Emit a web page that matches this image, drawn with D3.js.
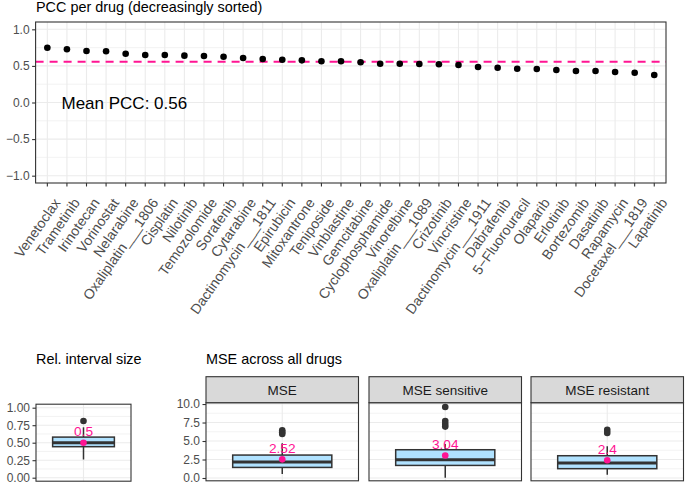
<!DOCTYPE html>
<html><head><meta charset="utf-8">
<script src="https://cdn.jsdelivr.net/npm/d3@7"></script>
<style>
body{margin:0;background:#fff;}
svg{display:block;font-family:"Liberation Sans",Arial,Helvetica,sans-serif;}
</style></head>
<body><svg id="c" width="685" height="484"></svg>
<script>
// ---------------- data ----------------
const drugs = ["Venetoclax","Trametinib","Irinotecan","Vorinostat","Nelarabine","Oxaliplatin___1806","Cisplatin","Nilotinib","Temozolomide","Sorafenib","Cytarabine","Dactinomycin___1811","Epirubicin","Mitoxantrone","Teniposide","Vinblastine","Gemcitabine","Cyclophosphamide","Vinorelbine","Oxaliplatin___1089","Crizotinib","Vincristine","Dactinomycin___1911","Dabrafenib","5\u2212Fluorouracil","Olaparib","Erlotinib","Bortezomib","Dasatinib","Rapamycin","Docetaxel___1819","Lapatinib"];
const pcc = [0.749,0.727,0.704,0.700,0.667,0.649,0.649,0.640,0.635,0.626,0.608,0.594,0.585,0.576,0.563,0.563,0.549,0.530,0.530,0.526,0.522,0.512,0.485,0.475,0.462,0.458,0.444,0.430,0.430,0.417,0.407,0.376];
const meanPCC = 0.557;
const meanPCCLabel = "Mean PCC: 0.56";
const pccTicks = [-1.0,-0.5,0.0,0.5,1.0];

const relStats = {q1:0.443, median:0.50, q3:0.58, lo:0.26, hi:0.72, outliers:[0.81], mean:0.5, label:"0.5"};
const relTicks = [0,0.25,0.5,0.75,1.0];

const mseFacets = ["MSE","MSE sensitive","MSE resistant"];
const mseQ1 = [1.43,1.70,1.26];
const mseMedian = [2.16,2.47,2.03];
const mseQ3 = [3.10,3.82,3.01];
const mseLo = [0.54,0.02,0.45];
const mseHi = [4.7,4.6,4.3];
const mseOutliers = [[6.45,6.2,5.95],[9.6,7.7,7.3,6.95],[6.5,6.1]];
const mseMean = [2.52,3.04,2.40];
const mseMeanLabel = ["2.52","3.04","2.4"];
const mseTicks = [0,2.5,5,7.5,10];

// ---------------- style ----------------
const GRID="#ebebeb", BORDER="#333333", TICKTXT="#4d4d4d", PINK="#ff1493", BOXFILL="#b0e2ff";
const svg = d3.select("#c");

function grid(g, x0, x1, y, major, minor){
  minor.forEach(v=>g.append("line").attr("x1",x0).attr("x2",x1).attr("y1",y(v)).attr("y2",y(v)).attr("stroke",GRID).attr("stroke-width",0.6));
  major.forEach(v=>g.append("line").attr("x1",x0).attr("x2",x1).attr("y1",y(v)).attr("y2",y(v)).attr("stroke",GRID).attr("stroke-width",1.1));
}
function yAxis(g, x0, y, ticks, fmt){
  const ax = d3.axisLeft(y).tickValues(ticks).tickFormat(fmt).tickSize(3.5).tickPadding(2.5);
  const a = g.append("g").attr("transform",`translate(${x0},0)`).call(ax);
  a.select(".domain").remove();
  a.selectAll("line").attr("stroke",BORDER).attr("stroke-width",1.1);
  a.selectAll("text").attr("fill",TICKTXT).style("font-size","12px").style("font-family","'Liberation Sans',Arial,sans-serif");
}

// ---------------- top panel ----------------
{
  const L=35.6, R=666, T=22, B=183;
  const x = d3.scalePoint().domain(drugs).range([L,R]).padding(0.6);
  const y = d3.scaleLinear().domain([-1.1,1.1]).range([B,T]);
  const g = svg.append("g");
  grid(g,L,R,y,pccTicks,[-0.75,-0.25,0.25,0.75]);
  drugs.forEach(d=>g.append("line").attr("x1",x(d)).attr("x2",x(d)).attr("y1",T).attr("y2",B).attr("stroke",GRID).attr("stroke-width",1.1));
  g.append("line").attr("x1",L).attr("x2",R).attr("y1",y(meanPCC)).attr("y2",y(meanPCC))
    .attr("stroke",PINK).attr("stroke-width",2).attr("stroke-dasharray","8,6");
  g.selectAll("circle.p").data(pcc).join("circle").attr("cx",(v,i)=>x(drugs[i])).attr("cy",v=>y(v)).attr("r",3.3).attr("fill","#000");
  g.append("text").attr("x",61.5).attr("y",y(0)).attr("dy","0.36em").style("font-size","17px").attr("fill","#000").text(meanPCCLabel);
  g.append("rect").attr("x",L).attr("y",T).attr("width",R-L).attr("height",B-T).attr("fill","none").attr("stroke",BORDER).attr("stroke-width",1.1);
  yAxis(g,L,y,pccTicks,d3.format(".1f"));
  drugs.forEach(d=>{
    g.append("line").attr("x1",x(d)).attr("x2",x(d)).attr("y1",B).attr("y2",B+3.5).attr("stroke",BORDER).attr("stroke-width",1.1);
    g.append("text").attr("transform",`translate(${x(d)+5.5},${B+14}) rotate(-55)`)
      .attr("text-anchor","end").attr("dy","0.71em").attr("fill",TICKTXT).style("font-size","14px").text(d);
  });
  svg.append("text").attr("x",36).attr("y",11.5).style("font-size","14.4px").attr("fill","#000").text("PCC per drug (decreasingly sorted)");
}

function boxplot(g, cx, w, y, s){
  g.append("line").attr("x1",cx).attr("x2",cx).attr("y1",y(s.q3)).attr("y2",y(s.hi)).attr("stroke",BORDER).attr("stroke-width",1.5);
  g.append("line").attr("x1",cx).attr("x2",cx).attr("y1",y(s.q1)).attr("y2",y(s.lo)).attr("stroke",BORDER).attr("stroke-width",1.5);
  g.append("rect").attr("x",cx-w/2).attr("y",y(s.q3)).attr("width",w).attr("height",y(s.q1)-y(s.q3))
    .attr("fill",BOXFILL).attr("stroke",BORDER).attr("stroke-width",1.5);
  g.append("line").attr("x1",cx-w/2).attr("x2",cx+w/2).attr("y1",y(s.median)).attr("y2",y(s.median)).attr("stroke",BORDER).attr("stroke-width",3);
  s.outliers.forEach(o=>g.append("circle").attr("cx",cx).attr("cy",y(o)).attr("r",3.3).attr("fill",BORDER));
  g.append("circle").attr("cx",cx).attr("cy",y(s.mean)).attr("r",3.3).attr("fill",PINK);
  g.append("text").attr("x",cx).attr("y",y(s.mean)-6.5).attr("text-anchor","middle").attr("fill",PINK).style("font-size","13.7px").text(s.label);
}

// ---------------- bottom-left panel ----------------
{
  const L=36, R=131, T=404.2, B=481.2;
  const y = d3.scaleLinear().domain([-0.05,1.05]).range([B,T]);
  const x = d3.scalePoint().domain(["rel"]).range([L,R]).padding(0.6);
  const g = svg.append("g");
  grid(g,L,R,y,relTicks,[0.125,0.375,0.625,0.875]);
  g.append("line").attr("x1",x("rel")).attr("x2",x("rel")).attr("y1",T).attr("y2",B).attr("stroke",GRID).attr("stroke-width",1.1);
  boxplot(g,x("rel"),x.step()*0.78,y,relStats);
  g.append("rect").attr("x",L).attr("y",T).attr("width",R-L).attr("height",B-T).attr("fill","none").attr("stroke",BORDER).attr("stroke-width",1.1);
  yAxis(g,L,y,relTicks,d3.format(".2f"));
  svg.append("text").attr("x",36).attr("y",363.5).style("font-size","14.4px").attr("fill","#000").text("Rel. interval size");
}

// ---------------- MSE facets ----------------
{
  const panelL = [206,369,531], PW = 152.5, T=402.7, B=480.8, ST=376.7;
  const y = d3.scaleLinear().domain([-0.38,10.18]).range([B,T]);
  mseFacets.forEach((f,i)=>{
    const L=panelL[i], R=L+PW;
    const x = d3.scalePoint().domain([f]).range([L,R]).padding(0.6);
    const g = svg.append("g");
    grid(g,L,R,y,mseTicks,[1.25,3.75,6.25,8.75]);
    g.append("line").attr("x1",x(f)).attr("x2",x(f)).attr("y1",T).attr("y2",B).attr("stroke",GRID).attr("stroke-width",1.1);
    boxplot(g,x(f),x.step()*0.78,y,{q1:mseQ1[i],median:mseMedian[i],q3:mseQ3[i],lo:mseLo[i],hi:mseHi[i],outliers:mseOutliers[i],mean:mseMean[i],label:mseMeanLabel[i]});
    g.append("rect").attr("x",L).attr("y",T).attr("width",PW).attr("height",B-T).attr("fill","none").attr("stroke",BORDER).attr("stroke-width",1.1);
    g.append("rect").attr("x",L).attr("y",ST).attr("width",PW).attr("height",T-ST).attr("fill","#d9d9d9").attr("stroke",BORDER).attr("stroke-width",1.1);
    g.append("text").attr("x",(L+R)/2).attr("y",(ST+T)/2).attr("dy","0.36em").attr("text-anchor","middle").attr("fill","#1a1a1a").style("font-size","13.5px").text(f);
    if(i===0) yAxis(g,L,y,mseTicks,d3.format(".1f"));
  });
  svg.append("text").attr("x",206).attr("y",363.5).style("font-size","14.4px").attr("fill","#000").text("MSE across all drugs");
}
</script></body></html>
